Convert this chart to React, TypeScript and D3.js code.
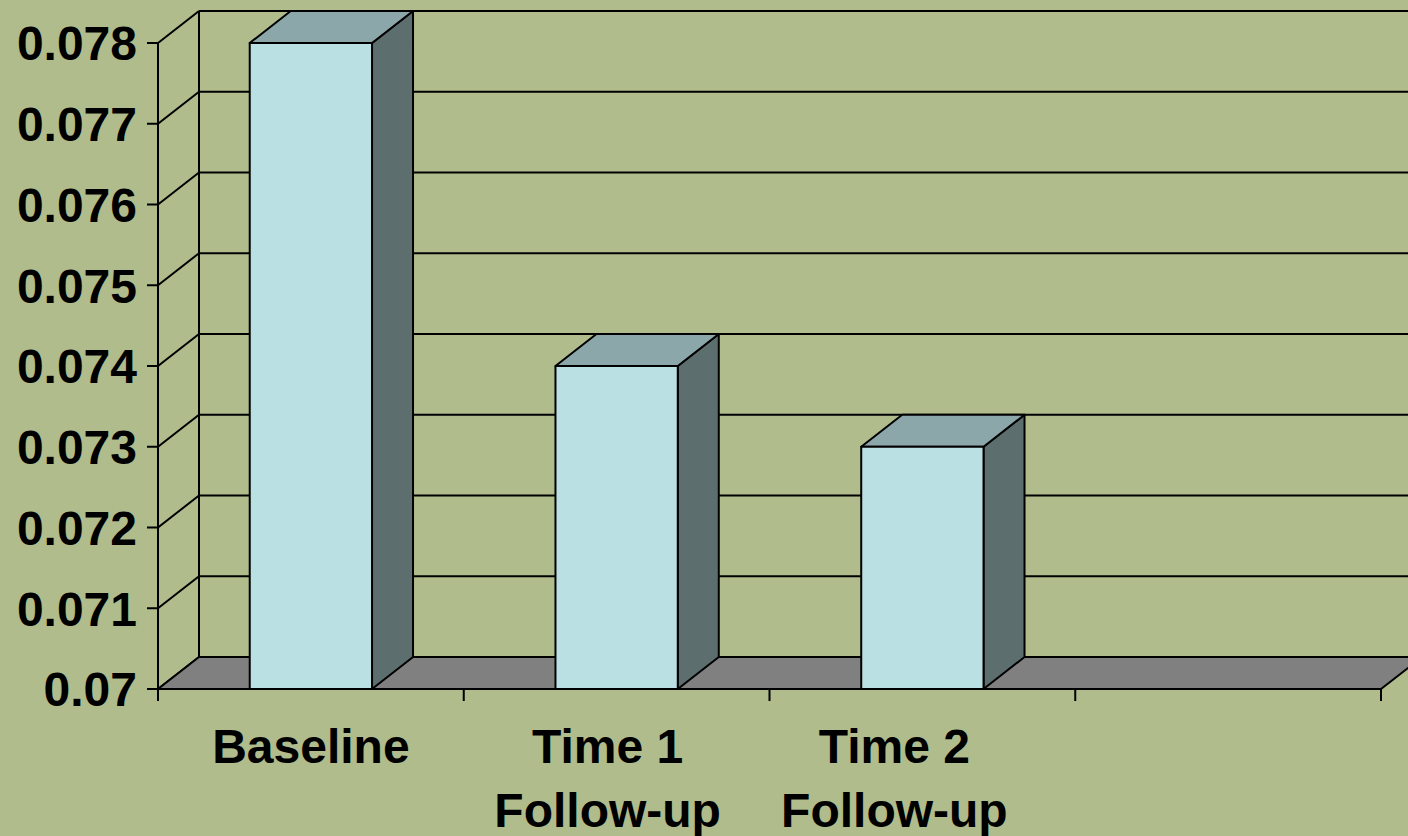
import React from "react";
import * as d3 from "d3";

// Categories (the fourth slot is an empty category, as in the source chart)
const categories: string[][] = [["Baseline"], ["Time 1", "Follow-up"], ["Time 2", "Follow-up"], []];
const values: (number | null)[] = [0.078, 0.074, 0.073, null];
const yTicks: number[] = [0.07, 0.071, 0.072, 0.073, 0.074, 0.075, 0.076, 0.077, 0.078];
const yTickLabels: string[] = ["0.07", "0.071", "0.072", "0.073", "0.074", "0.075", "0.076", "0.077", "0.078"];

const W = 1408;
const H = 836;
const BG = "#B0BC8C";
const FRONT = "#BAE0E3";
const TOP = "#8CA7AA";
const SIDE = "#5D6E6F";
const FLOOR = "#808080";
const FONT = "'Liberation Sans', Arial, sans-serif";

// Plot frame (front plane) and oblique depth offset
const X0 = 158;
const X1 = 1381;
const Y0 = 689;
const Y1 = 43;
const DX = 41;
const DY = -32;
const labelShift = [0, -9, -28, 0];

export default function App() {
  const x = d3
    .scaleBand<number>()
    .domain(categories.map((_, i) => i))
    .range([X0, X1])
    .padding(0);
  const y = d3.scaleLinear().domain([0.07, 0.078]).range([Y0, Y1]);
  const bw = x.bandwidth() * 0.4;
  const sw = 2;

  const floorPts: [number, number][] = [
    [X0, Y0],
    [X1, Y0],
    [X1 + DX, Y0 + DY],
    [X0 + DX, Y0 + DY],
  ];
  const poly = d3.line();

  return (
    <svg
      width={W}
      height={H}
      style={{ position: "absolute", left: 0, top: 0, background: BG }}
      fontFamily={FONT}
    >
      <rect x={0} y={0} width={W} height={H} fill={BG} />

      {/* back wall gridlines and left wall diagonals */}
      {yTicks.map((t) => (
        <g key={t}>
          <line x1={X0 + DX} x2={X1 + DX} y1={y(t) + DY} y2={y(t) + DY} stroke="#000" strokeWidth={sw} />
          <line x1={X0} x2={X0 + DX} y1={y(t)} y2={y(t) + DY} stroke="#000" strokeWidth={sw} />
        </g>
      ))}
      <line x1={X0 + DX} x2={X0 + DX} y1={y(0.078) + DY} y2={Y0 + DY} stroke="#000" strokeWidth={sw} />
      <line x1={X1 + DX} x2={X1 + DX} y1={y(0.078) + DY} y2={Y0 + DY} stroke="#000" strokeWidth={sw} />

      {/* floor */}
      <path d={poly(floorPts) + "Z"} fill={FLOOR} stroke="#000" strokeWidth={sw} strokeLinejoin="round" />

      {/* left axis */}
      <line x1={X0} x2={X0} y1={y(0.078)} y2={Y0} stroke="#000" strokeWidth={sw} />
      {yTicks.map((t, i) => (
        <g key={"t" + t}>
          <line x1={X0 - 11} x2={X0} y1={y(t)} y2={y(t)} stroke="#000" strokeWidth={sw} />
          <text
            x={X0 - 21}
            y={y(t)}
            dy="0.36em"
            textAnchor="end"
            fontSize={48}
            fontWeight="bold"
            fill="#000"
          >
            {yTickLabels[i]}
          </text>
        </g>
      ))}

      {/* bottom axis */}
      <line x1={X0} x2={X1} y1={Y0} y2={Y0} stroke="#000" strokeWidth={sw} />
      {[...categories.map((_, i) => x(i)!), X1].map((px, i) => (
        <line key={"xt" + i} x1={px} x2={px} y1={Y0} y2={Y0 + 12} stroke="#000" strokeWidth={sw} />
      ))}

      {/* bars */}
      {values.map((v, i) => {
        if (v == null) return null;
        const bx = x(i)! + (x.bandwidth() - bw) / 2;
        const top = y(v);
        const front: [number, number][] = [
          [bx, Y0],
          [bx + bw, Y0],
          [bx + bw, top],
          [bx, top],
        ];
        const lid: [number, number][] = [
          [bx, top],
          [bx + bw, top],
          [bx + bw + DX, top + DY],
          [bx + DX, top + DY],
        ];
        const side: [number, number][] = [
          [bx + bw, Y0],
          [bx + bw + DX, Y0 + DY],
          [bx + bw + DX, top + DY],
          [bx + bw, top],
        ];
        return (
          <g key={"bar" + i} stroke="#000" strokeWidth={sw} strokeLinejoin="round">
            <path d={poly(side) + "Z"} fill={SIDE} />
            <path d={poly(lid) + "Z"} fill={TOP} />
            <path d={poly(front) + "Z"} fill={FRONT} />
          </g>
        );
      })}

      {/* category labels */}
      {categories.map((lines, i) => (
        <text
          key={"c" + i}
          x={x(i)! + x.bandwidth() / 2 + labelShift[i]}
          y={763}
          textAnchor="middle"
          fontSize={48}
          fontWeight="bold"
          fill="#000"
        >
          {lines.map((ln, j) => (
            <tspan key={j} x={x(i)! + x.bandwidth() / 2 + labelShift[i]} dy={j === 0 ? 0 : 64}>
              {ln}
            </tspan>
          ))}
        </text>
      ))}
    </svg>
  );
}
